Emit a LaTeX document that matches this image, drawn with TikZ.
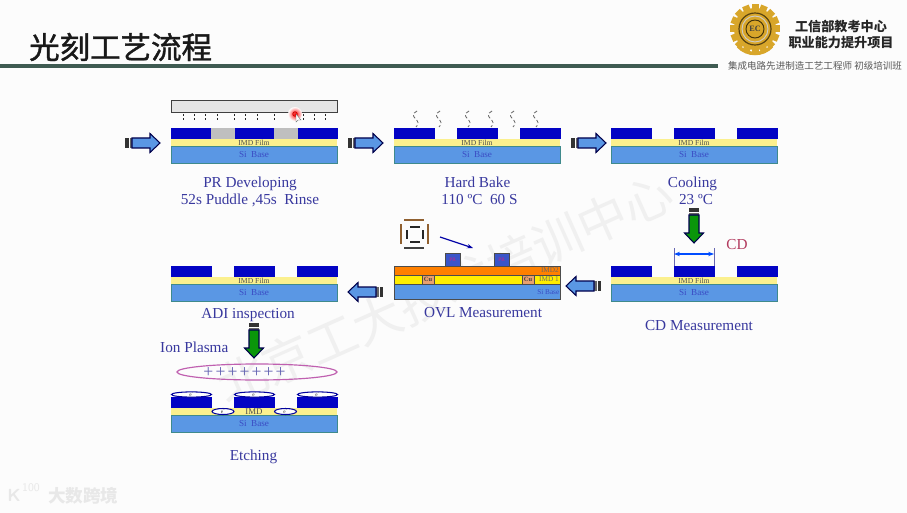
\documentclass[tikz,border=0pt]{standalone}
\usepackage{fontspec}
\setmainfont{Liberation Serif}
\newfontfamily\cjk{Noto Sans CJK SC}
\newfontfamily\cjkmid[FakeBold=1.3]{Noto Sans CJK SC}
\usetikzlibrary{arrows.meta,calc}

\definecolor{resistBlue}{HTML}{0303C4}
\definecolor{filmYellow}{HTML}{FBF08E}
\definecolor{baseBlue}{HTML}{5A97E4}
\definecolor{baseEdge}{HTML}{3F8A8C}
\definecolor{labelBlue}{HTML}{38389E}
\definecolor{siBlue}{HTML}{3A4BC4}
\definecolor{prBlue}{HTML}{3A55C8}
\definecolor{logoGold}{HTML}{D8A62A}
\definecolor{ruleGreen}{HTML}{3F5B52}
\definecolor{cdRed}{HTML}{B23A5E}
\definecolor{plasmaPink}{HTML}{C060B0}
\definecolor{cuSalmon}{HTML}{E9A06E}
\definecolor{arrowGreen}{HTML}{0A960A}

\tikzset{
    stacklabel/.style={text=labelBlue, font=\fontsize{13}{15}\selectfont, inner sep=0pt, anchor=base},
    filmlabel/.style={text=black!70, font=\fontsize{6.5}{7}\selectfont, inner sep=0pt},
    baselabel/.style={text=siBlue, font=\fontsize{7.8}{8}\selectfont, inner sep=0pt},
    ovllabel/.style={font=\fontsize{6.2}{7}\selectfont, inner sep=0pt, anchor=east},
    electron/.style={text=black!80, font=\fontsize{4.5}{5}\selectfont, inner sep=0pt},
    brandtext/.style={text=black!9, inner sep=0pt},
    watermark/.style={text=black!6, font=\cjk\fontsize{42}{46}\selectfont, rotate=24, inner sep=0pt},
    pics/wafer/.style={code={
        \fill[filmYellow] (0,11) rectangle (166,18);
        \filldraw[fill=baseBlue, draw=baseEdge, line width=0.7pt] (0,18) rectangle (166,35);
        \foreach \xa in {0,63,126}
            \fill[resistBlue] (\xa,0) rectangle ++(40.5,11);
        \node[filmlabel] (-film) at (83,15) {#1};
        \node[baselabel] (-base) at (83,26.5) {Si\ \ Base};
    }},
    pics/flowarrow/.style={code={
        \fill[black!80] (0,-5) rectangle (3.5,5);
        \fill[black!60] (4.5,-5) rectangle (7,5);
        \filldraw[fill=#1, draw=black!70!blue, line width=0.9pt]
            (7,-5) -- (25,-5) -- (25,-9.5) -- (35,0) -- (25,9.5) -- (25,5) -- (7,5) -- cycle;
    }},
}

\begin{document}
\begin{tikzpicture}[x=0.03cm, y=-0.03cm]
    \useasboundingbox (0,0) rectangle (907,513);
    \fill[black!1] (0,0) rectangle (907,513);

    % --- Watermark ---
    \node[watermark] (mark) at (445,289) {北京工大技术培训中心};

    % --- Header ---
    \node[font=\cjkmid\fontsize{26}{28}\selectfont, text=black!90, inner sep=0pt, anchor=west] (title) at (29,47) {光刻工艺流程};
    \fill[ruleGreen] (0,64) rectangle (718,68);
    \node[font=\cjk\bfseries\fontsize{11.2}{12}\selectfont, text=black!85, inner sep=0pt] (headA) at (841,26.5) {工信部教考中心};
    \node[font=\cjk\bfseries\fontsize{11.2}{12}\selectfont, text=black!85, inner sep=0pt] (headB) at (841,43) {职业能力提升项目};
    \node[font=\cjk\fontsize{8.15}{9}\selectfont, text=black!65, inner sep=0pt] (headC) at (815,66) {集成电路先进制造工艺工程师 初级培训班};

    % --- Logo ---
    \coordinate (Logo) at (755,29);
    \foreach \a in {0,22.5,...,337.5}
        \fill[logoGold, rotate around={\a:(Logo)}] ($(Logo)+(-3.5,-25)$) rectangle ($(Logo)+(3.5,-19)$);
    \fill[logoGold] (Logo) circle (21);
    \draw[black!60!logoGold, line width=1pt] (Logo) circle (16);
    \draw[black!20!white, line width=0.8pt] (Logo) circle (13);
    \draw[black!70!logoGold, line width=0.8pt] (Logo) circle (9);
    \draw[logoGold, line width=3pt] ($(Logo)+(-17,17)$) .. controls ($(Logo)+(-8,27)$) and ($(Logo)+(8,27)$) .. ($(Logo)+(17,17)$);
    \node[font=\bfseries\fontsize{7}{8}\selectfont, text=black!75, inner sep=0pt] (logoText) at (Logo) {EC};

    % --- Row 1: PR Developing ---
    \fill[black!10] (171,100) rectangle (337,112);
    \draw[black!75, line width=0.8pt] (171,100) rectangle (337,112);
    \foreach \xa in {183,194,205,217,234,245,257,274,291,303,314,325}
        \draw[black!85, line width=0.8pt, dash pattern=on 2pt off 1.5pt] (\xa,114) -- (\xa,122);
    \pic (dev) at (171,128) {wafer={IMD Film}};
    \fill[black!25] (211,128) rectangle (235,139);
    \fill[black!25] (274,128) rectangle (298,139);
    \shade[inner color=red, outer color=red!0] (295,114) circle (7);
    \draw[red!80!black, line width=0.7pt] (295,114) circle (2.2);
    \filldraw[fill=white, draw=black!60, line width=0.3pt] (296,114) -- (296,122) -- (298,120) -- (301,120) -- cycle;
    \node[stacklabel] (devA) at (250,187.5) {PR Developing};
    \node[stacklabel] (devB) at (250,205) {52s Puddle ,45s\ \ Rinse};

    % --- Row 1: Hard Bake ---
    \pic (bake) at (394,128) {wafer={IMD Film}};
    \foreach \xa in {415,438,467,490,512,535}
        \draw[black!60, densely dashed, line width=0.7pt] (\xa+2,111) .. controls (\xa-9,117) and (\xa+9,120) .. (\xa+1,127);
    \node[stacklabel] (bakeA) at (477.5,187.5) {Hard Bake};
    \node[stacklabel] (bakeB) at (479.5,205) {110 ºC\ \ 60 S};

    % --- Row 1: Cooling ---
    \pic (cool) at (611,128) {wafer={IMD Film}};
    \node[stacklabel] (coolA) at (692.5,187.5) {Cooling};
    \node[stacklabel] (coolB) at (696,205) {23 ºC};

    % --- Row 2: CD Measurement ---
    \pic (cd) at (611,266) {wafer={IMD Film}};
    \draw[blue!50!black!60!white, line width=0.6pt] (674,248) -- (674,266) (714,248) -- (714,266);
    \draw[{Stealth[length=5pt]}-{Stealth[length=5pt]}, blue!70!cyan, line width=0.9pt] (674,254) -- (714,254);
    \node[stacklabel, text=cdRed] (cdText) at (737,249) {CD};
    \node[stacklabel] (cdA) at (699,330) {CD Measurement};

    % --- Row 2: OVL Measurement ---
    \filldraw[fill=orange, draw=black!70, line width=0.7pt] (394,266) rectangle (560,275);
    \filldraw[fill=yellow!95!orange, draw=black!70, line width=0.7pt] (394,275) rectangle (560,284);
    \filldraw[fill=baseBlue, draw=black!70, line width=0.7pt] (394,284) rectangle (560,299);
    \foreach \xa/\nm in {422/cuA,522/cuB} {
        \filldraw[fill=cuSalmon, draw=black!70, line width=0.5pt] (\xa,275) rectangle ++(12,9);
        \node[text=black!75, font=\bfseries\fontsize{5.5}{6}\selectfont, inner sep=0pt] (\nm) at (\xa+6,279.5) {Cu};
    }
    \foreach \xa/\nm in {445/prA,494/prB} {
        \filldraw[fill=prBlue, draw=black!70, line width=0.7pt] (\xa,253) rectangle ++(15.5,13);
        \node[text=magenta!85!black, font=\fontsize{4.5}{5}\selectfont, inner sep=0pt] (\nm) at (\xa+7.7,259.5) {PR};
    }
    \node[ovllabel, text=black!60] (imdB) at (559,270.5) {IMD2};
    \node[ovllabel, text=black!60] (imdA) at (559,279.5) {IMD 1};
    \node[ovllabel, text=siBlue] (siOvl) at (559.5,292) {Si Base};
    \node[stacklabel] (ovlA) at (483,317) {OVL Measurement};

    % overlay mark
    \draw[brown!75!black, line width=2.2pt] (404,220) -- (424,220) (401,224) -- (401,244) (428,224) -- (428,244);
    \draw[black!75, line width=2.2pt] (404,248) -- (424,248);
    \draw[black!85, line width=1.8pt] (410,227) -- (420,227) (410,242) -- (420,242) (407,230) -- (407,239) (423,230) -- (423,239);
    \draw[-{Stealth[length=5pt]}, blue!65!black, line width=1pt] (440,237) -- (473,248);

    % --- Row 2: ADI inspection ---
    \pic (adi) at (171,266) {wafer={IMD Film}};
    \node[stacklabel] (adiA) at (248,318) {ADI inspection};

    % --- Row 3: Etching ---
    \node[stacklabel, anchor=base west] (ion) at (160,352.5) {Ion Plasma};
    \draw[plasmaPink, line width=1pt] (257,372) ellipse (80 and 8);
    \node[text=labelBlue!80, font=\fontsize{15}{16}\selectfont, inner sep=0pt] (plus) at (244.5,373)
        {+\hspace{1.8pt}+\hspace{1.8pt}+\hspace{1.8pt}+\hspace{1.8pt}+\hspace{1.8pt}+\hspace{1.8pt}+};
    \pic (etch) at (171,397) {wafer={\fontsize{7.5}{8}\selectfont IMD}};
    \foreach \xa/\nm in {191.5/eA,254.5/eB,317.5/eC} {
        \filldraw[fill=white, draw=resistBlue!80!black, line width=0.9pt] (\xa,394.5) ellipse (20 and 2.6);
        \node[electron] (\nm) at (\xa,394.5) {e\textsuperscript{-}};
    }
    \foreach \xa/\nm in {223/eD,285.5/eE} {
        \filldraw[fill=white, draw=resistBlue!80!black, line width=0.9pt] (\xa,411.5) ellipse (11 and 3);
        \node[electron] (\nm) at (\xa,411.5) {e\textsuperscript{-}};
    }
    \node[stacklabel] (etchA) at (253.5,460.5) {Etching};

    % --- Flow Arrows ---
    \pic at (125,143) {flowarrow=baseBlue};
    \pic at (348,143) {flowarrow=baseBlue};
    \pic at (571,143) {flowarrow=baseBlue};
    \pic[xscale=-1] at (601,286) {flowarrow=baseBlue};
    \pic[xscale=-1] at (383,292) {flowarrow=baseBlue};
    \pic[rotate=-90] at (694,208) {flowarrow=arrowGreen};
    \pic[rotate=-90] at (254,323) {flowarrow=arrowGreen};

    % --- Bottom Corner Mark ---
    \node[brandtext, font=\sffamily\bfseries\fontsize{15}{16}\selectfont] (brandK) at (14,495) {K};
    \node[brandtext, font=\sffamily\fontsize{10}{11}\selectfont] (brandNum) at (31,488) {100};
    \node[brandtext, font=\cjk\bfseries\fontsize{15}{16}\selectfont, anchor=west] (brand) at (48,496) {大数跨境};
\end{tikzpicture}
\end{document}
